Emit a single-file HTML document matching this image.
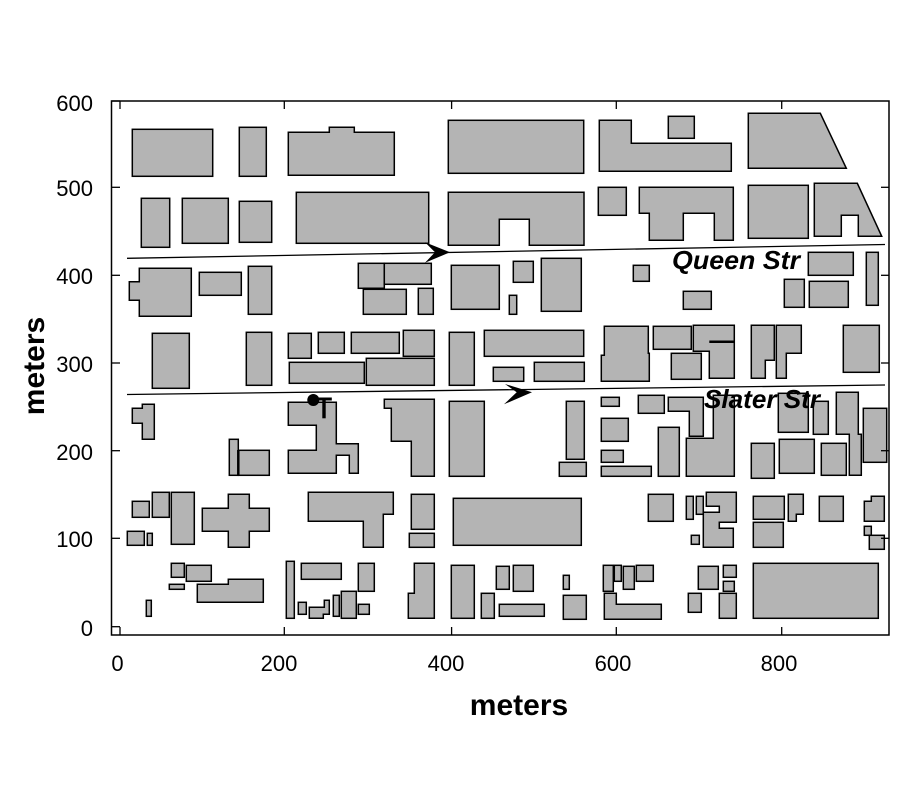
<!DOCTYPE html>
<html><head><meta charset="utf-8"><style>html,body{margin:0;padding:0;background:#fff}svg{display:block}</style></head>
<body>
<svg width="900" height="800" viewBox="0 0 900 800" xmlns="http://www.w3.org/2000/svg" font-family="Liberation Sans, sans-serif">
<rect width="900" height="800" fill="#fff"/>
<g fill="#b4b4b4" stroke="#000" stroke-width="1.5">
<rect x="132.3" y="129.3" width="80.4" height="47"/>
<rect x="239.3" y="127.3" width="27" height="49"/>
<polygon points="288.3,132.3 329.3,132.3 329.3,127.3 354.3,127.3 354.3,132.3 394.3,132.3 394.3,175.3 288.3,175.3"/>
<rect x="448.3" y="120.3" width="135.4" height="53"/>
<polygon points="599.3,120.3 631.3,120.3 631.3,143.3 731.3,143.3 731.3,171.3 599.3,171.3"/>
<rect x="668.3" y="116.3" width="26" height="22"/>
<polygon points="748.3,113.3 820.3,113.3 846.3,168.3 748.3,168.3"/>
<rect x="141.3" y="198.3" width="28.4" height="49"/>
<rect x="182.3" y="198.3" width="46" height="45"/>
<rect x="239.3" y="201.3" width="32.4" height="41"/>
<rect x="296.3" y="192.3" width="132.4" height="51"/>
<polygon points="448.3,192.3 584,192.3 584,245.3 529.3,245.3 529.3,219.3 499.3,219.3 499.3,245.3 448.3,245.3"/>
<rect x="598.3" y="187.3" width="28" height="28"/>
<polygon points="639.3,187.3 733.3,187.3 733.3,240.3 714.3,240.3 714.3,213.3 683.3,213.3 683.3,240.3 649.3,240.3 649.3,213.3 639.3,213.3"/>
<rect x="748.3" y="185.3" width="60" height="53"/>
<polygon points="814.3,183.3 857.3,183.3 881.7,236.3 858.3,236.3 858.3,215.3 841.3,215.3 841.3,236.3 814.3,236.3"/>
<polygon points="129.3,281.7 139.3,281.7 139.3,268.3 191.3,268.3 191.3,316.3 139.3,316.3 139.3,300.3 129.3,300.3"/>
<rect x="199.3" y="272.3" width="42" height="23"/>
<rect x="248.3" y="266.3" width="23.4" height="48"/>
<rect x="358.3" y="263.3" width="26" height="25"/>
<rect x="384.3" y="263.3" width="47" height="21"/>
<rect x="363.3" y="289.3" width="43" height="25"/>
<rect x="418.3" y="288.3" width="15" height="26"/>
<rect x="451.3" y="265.3" width="48" height="44"/>
<rect x="513.3" y="261.3" width="20" height="21"/>
<rect x="509.3" y="295.3" width="7.4" height="19"/>
<rect x="541.3" y="258.3" width="40" height="53"/>
<rect x="633.3" y="265.3" width="16" height="16"/>
<rect x="683.3" y="291.3" width="28" height="18"/>
<rect x="808.3" y="252.3" width="45" height="23"/>
<rect x="866.3" y="252.3" width="12" height="53"/>
<rect x="784.3" y="279.3" width="20" height="28"/>
<rect x="809.3" y="281.3" width="39" height="26"/>
<rect x="152.3" y="333.3" width="37" height="55"/>
<rect x="246.3" y="332.3" width="25.4" height="53"/>
<rect x="288.3" y="333.3" width="23" height="25"/>
<rect x="318.3" y="332.3" width="26" height="21"/>
<rect x="351.3" y="332.3" width="48" height="21"/>
<rect x="403.3" y="330.3" width="31" height="26"/>
<rect x="289.3" y="362.3" width="75" height="21"/>
<rect x="366.3" y="358.3" width="68" height="27"/>
<rect x="449.3" y="332.3" width="25" height="53"/>
<rect x="484.3" y="330.3" width="99.4" height="26"/>
<rect x="493.3" y="367.3" width="30.4" height="14"/>
<rect x="534.3" y="362.3" width="50" height="19"/>
<polygon points="604.3,326.3 648.3,326.3 648.3,353.3 649.3,353.3 649.3,381.3 601.3,381.3 601.3,355.3 604.3,355.3"/>
<rect x="653.3" y="326.3" width="38" height="23"/>
<polygon points="693.3,325.3 734.3,325.3 734.3,378.3 709.3,378.3 709.3,351.3 693.3,351.3"/>
<rect x="671.3" y="353.3" width="30" height="26"/>
<polygon points="751.3,325.3 774.3,325.3 774.3,360.3 765.3,360.3 765.3,378.3 751.3,378.3"/>
<polygon points="776.3,325.3 801.3,325.3 801.3,353.3 786.3,353.3 786.3,378.3 776.3,378.3"/>
<rect x="843.3" y="325.3" width="36" height="47"/>
<polygon points="132.3,408.3 142.3,408.3 142.3,404.3 154.3,404.3 154.3,439.3 142.3,439.3 142.3,423.3 132.3,423.3"/>
<rect x="229.3" y="439.3" width="9" height="36"/>
<rect x="238.3" y="450.3" width="31" height="25"/>
<polygon points="288.3,402.3 336.3,402.3 336.3,443.7 358.3,443.7 358.3,473.3 349.3,473.3 349.3,455.3 336.3,455.3 336.3,473.3 288.3,473.3 288.3,450.3 316.3,450.3 316.3,425.3 288.3,425.3"/>
<polygon points="384.3,399.3 434.3,399.3 434.3,476.3 411.3,476.3 411.3,441.3 391.3,441.3 391.3,408.3 384.3,408.3"/>
<rect x="449.3" y="401.3" width="35" height="75"/>
<rect x="566.3" y="401.3" width="18" height="58"/>
<rect x="559.3" y="462.3" width="27" height="14"/>
<rect x="601.3" y="397.3" width="18" height="9"/>
<rect x="601.3" y="418.3" width="27" height="23"/>
<rect x="601.3" y="450.3" width="22" height="12"/>
<rect x="601.3" y="466.3" width="50" height="10"/>
<rect x="638.3" y="395.3" width="26" height="18"/>
<polygon points="668.3,397.3 703.3,397.3 703.3,436.3 689.3,436.3 689.3,411.3 668.3,411.3"/>
<rect x="658.3" y="427.3" width="21" height="49"/>
<polygon points="686.3,438.3 713.3,438.3 713.3,395.3 734.3,395.3 734.3,476.3 686.3,476.3"/>
<rect x="778.3" y="393.3" width="30" height="39"/>
<rect x="813.3" y="401.3" width="15" height="33"/>
<polygon points="836.3,392.3 858.3,392.3 858.3,434.3 861.3,434.3 861.3,475.3 849.3,475.3 849.3,434.3 836.3,434.3"/>
<rect x="863.3" y="408.3" width="23.4" height="54"/>
<rect x="751.3" y="443.3" width="23" height="35"/>
<rect x="779.3" y="439.3" width="35" height="34"/>
<rect x="821.3" y="443.3" width="25" height="32"/>
<rect x="132.3" y="501.3" width="17" height="16"/>
<rect x="152.3" y="492.3" width="17" height="25"/>
<rect x="171.3" y="492.3" width="23" height="52"/>
<rect x="127.3" y="531.3" width="17" height="14"/>
<rect x="147.3" y="533.3" width="5" height="12"/>
<polygon points="202.3,508.3 228.3,508.3 228.3,494.3 249.3,494.3 249.3,508.3 269.3,508.3 269.3,531.3 249.3,531.3 249.3,547.3 228.3,547.3 228.3,531.3 202.3,531.3"/>
<polygon points="308.3,492.3 393.3,492.3 393.3,514.3 383.3,514.3 383.3,547.3 363.3,547.3 363.3,521.3 308.3,521.3"/>
<rect x="411.3" y="494.3" width="23" height="35"/>
<rect x="409.3" y="533.3" width="25" height="14"/>
<rect x="453.3" y="498.3" width="128" height="47"/>
<rect x="648.3" y="494.3" width="25" height="27"/>
<rect x="686.3" y="496.3" width="7" height="23"/>
<rect x="696.3" y="496.3" width="7" height="18"/>
<polygon points="706.3,492.3 736.3,492.3 736.3,522.3 719.3,522.3 719.3,528.3 733.3,528.3 733.3,547.3 703.3,547.3 703.3,512.3 719.3,512.3 719.3,506.3 706.3,506.3"/>
<rect x="691.3" y="535.3" width="8" height="9"/>
<rect x="753.3" y="496.3" width="31" height="23"/>
<polygon points="788.3,494.3 803.3,494.3 803.3,514.3 796.3,514.3 796.3,521.3 788.3,521.3"/>
<rect x="753.3" y="522.3" width="30" height="25"/>
<rect x="819.3" y="496.3" width="24" height="25"/>
<polygon points="864.3,501.3 871.3,501.3 871.3,496.3 884.3,496.3 884.3,521.3 864.3,521.3"/>
<rect x="864.3" y="526.3" width="7" height="9"/>
<rect x="869.3" y="535.3" width="15" height="14"/>
<rect x="171.3" y="563.3" width="13" height="14"/>
<rect x="186.3" y="565.3" width="25" height="16"/>
<rect x="169.3" y="584.3" width="15" height="5"/>
<polygon points="197.3,584.3 228.3,584.3 228.3,579.3 263.3,579.3 263.3,602.3 197.3,602.3"/>
<rect x="146.3" y="600.3" width="5" height="16"/>
<rect x="286.3" y="561.3" width="8" height="57"/>
<rect x="301.3" y="563.3" width="40" height="16"/>
<rect x="358.3" y="563.3" width="16" height="28"/>
<rect x="298.3" y="602.3" width="8" height="12"/>
<polygon points="309.3,607.3 324.3,607.3 324.3,600.3 329.3,600.3 329.3,614.3 323.3,614.3 323.3,618.3 309.3,618.3"/>
<rect x="333.3" y="595.3" width="6" height="21"/>
<rect x="341.3" y="591.3" width="15" height="27"/>
<rect x="358.3" y="604.3" width="11" height="10"/>
<polygon points="414.3,563.3 434.3,563.3 434.3,618.3 408.3,618.3 408.3,593.3 414.3,593.3"/>
<rect x="451.3" y="565.3" width="23" height="53"/>
<rect x="481.3" y="593.3" width="13" height="25"/>
<rect x="496.3" y="566.3" width="13" height="23"/>
<rect x="513.3" y="565.3" width="20" height="26"/>
<rect x="499.3" y="604.3" width="45" height="12"/>
<rect x="563.3" y="575.3" width="6" height="14"/>
<rect x="563.3" y="595.3" width="23" height="24"/>
<rect x="603.3" y="565.3" width="10" height="26"/>
<rect x="614.3" y="565.3" width="7" height="16"/>
<rect x="623.3" y="566.3" width="11" height="23"/>
<rect x="636.3" y="565.3" width="17" height="16"/>
<polygon points="604.3,593.3 616.3,593.3 616.3,604.3 661.3,604.3 661.3,619.3 604.3,619.3"/>
<rect x="698.3" y="566.3" width="20" height="23"/>
<rect x="723.3" y="565.3" width="13" height="12"/>
<rect x="723.3" y="581.3" width="11" height="10"/>
<rect x="688.3" y="593.3" width="13" height="19"/>
<rect x="719.3" y="593.3" width="17" height="25"/>
<rect x="753.3" y="563.3" width="125" height="55"/>
</g>
<line x1="238.3" y1="450" x2="238.3" y2="475.3" stroke="#000" stroke-width="2.5"/>
<line x1="709.3" y1="341.7" x2="734.3" y2="341.7" stroke="#000" stroke-width="2.5"/>
<line x1="363.3" y1="288.5" x2="384.3" y2="288.5" stroke="#000" stroke-width="2"/>
<polyline points="127,258.3 885,244.5" fill="none" stroke="#000" stroke-width="1.3"/>
<polyline points="127,394.5 885,385" fill="none" stroke="#000" stroke-width="1.3"/>
<polygon points="425,242.3 450,252.3 425,262.7 435,252.3" fill="#000"/>
<polygon points="505,384 532,392.3 504,404.3 516.7,392.3" fill="#000"/>
<circle cx="313.3" cy="400" r="6" fill="#000"/>
<rect x="318.3" y="397.5" width="13.5" height="3" fill="#000"/>
<rect x="322.3" y="399" width="3.4" height="19.3" fill="#000"/>
<text x="672" y="269" font-size="26" font-weight="bold" font-style="italic" textLength="128" lengthAdjust="spacingAndGlyphs">Queen Str</text>
<text x="704" y="408" font-size="26" font-weight="bold" font-style="italic" textLength="116" lengthAdjust="spacingAndGlyphs">Slater Str</text>
<rect x="111.5" y="101" width="777.5" height="534" fill="none" stroke="#000" stroke-width="1.5"/>
<g stroke="#000" stroke-width="1.3">
<line x1="120" y1="101" x2="120" y2="109"/><line x1="284.3" y1="101" x2="284.3" y2="109"/><line x1="451.6" y1="101" x2="451.6" y2="109"/><line x1="616.3" y1="101" x2="616.3" y2="109"/><line x1="781.7" y1="101" x2="781.7" y2="109"/>
<line x1="120" y1="635" x2="120" y2="627"/><line x1="284.3" y1="635" x2="284.3" y2="627"/><line x1="451.6" y1="635" x2="451.6" y2="627"/><line x1="616.3" y1="635" x2="616.3" y2="627"/><line x1="781.7" y1="635" x2="781.7" y2="627"/>
<line x1="111.5" y1="101" x2="120" y2="101"/><line x1="111.5" y1="187.3" x2="120" y2="187.3"/><line x1="111.5" y1="275.3" x2="120" y2="275.3"/><line x1="111.5" y1="363" x2="120" y2="363"/><line x1="111.5" y1="450.7" x2="120" y2="450.7"/><line x1="111.5" y1="538.3" x2="120" y2="538.3"/><line x1="111.5" y1="626.7" x2="120" y2="626.7"/>
<line x1="889" y1="187.3" x2="881" y2="187.3"/><line x1="889" y1="275.3" x2="881" y2="275.3"/><line x1="889" y1="363" x2="881" y2="363"/><line x1="889" y1="450.7" x2="881" y2="450.7"/><line x1="889" y1="538.3" x2="881" y2="538.3"/>
</g>
<g font-size="22" text-anchor="end" fill="#000">
<text x="93" y="111">600</text><text x="93" y="196">500</text><text x="93" y="284">400</text><text x="93" y="372">300</text><text x="93" y="460">200</text><text x="93" y="547">100</text><text x="93" y="636">0</text>
</g>
<g font-size="22" text-anchor="middle" fill="#000">
<text x="117.5" y="671">0</text><text x="279" y="671">200</text><text x="446" y="671">400</text><text x="613" y="671">600</text><text x="779" y="671">800</text>
</g>
<text x="519" y="715" font-size="30" font-weight="bold" text-anchor="middle">meters</text>
<text x="0" y="0" font-size="30" font-weight="bold" text-anchor="middle" transform="translate(44,366) rotate(-90)">meters</text>
</svg>
</body></html>
